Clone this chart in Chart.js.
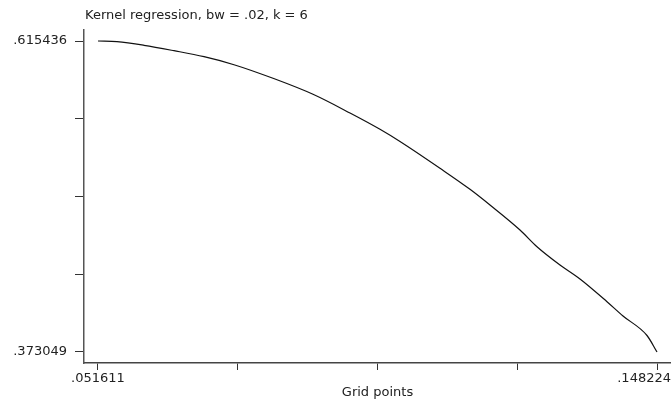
<!DOCTYPE html>
<html lang="en">
<head>
    <meta charset="UTF-8">
    <title>Kernel regression</title>
    <script src="https://cdn.jsdelivr.net/npm/chart.js"></script>
    <style>
        html, body { margin: 0; padding: 0; background: #fff; }
        #wrap { width: 671px; height: 402px; }
    </style>
</head>
<body>
    <div id="wrap"><canvas id="graficoKernel" width="671" height="402"></canvas></div>

    <script>
        // data
        const gridPoints = [0.051611, 0.054895, 0.059561, 0.064746, 0.069931, 0.075116, 0.081856, 0.088769,
            0.095164, 0.100349, 0.103806, 0.110719, 0.115904, 0.119360, 0.124545, 0.127483, 0.131458,
            0.134915, 0.139581, 0.142347, 0.146495, 0.148224];
        const fitted = [0.615436, 0.614891, 0.612085, 0.607876, 0.603200, 0.596965, 0.586365, 0.573895,
            0.559321, 0.546617, 0.537108, 0.516221, 0.499854, 0.487618, 0.468133, 0.455117, 0.440855,
            0.429944, 0.412252, 0.401106, 0.385909, 0.373049];

        const xTickValues = [0.051611, 0.0757643, 0.0999175, 0.1240708, 0.148224];
        const xTickLabels = [".051611", "", "", "", ".148224"];
        const yTickValues = [0.373049, 0.4336458, 0.4942425, 0.5548393, 0.615436];
        const yTickLabels = [".373049", "", "", "", ".615436"];

        const titulo = "Kernel regression, bw = .02, k = 6";
        const tituloX = "Grid points";

        const fonte = '"DejaVu Sans", sans-serif';

        const pontos = gridPoints.map((x, i) => ({ x: x, y: fitted[i] }));

        // title + x tick labels drawn by hand so they can sit where Stata puts them
        const textosExtras = {
            id: 'textosExtras',
            afterDraw(chart) {
                const ctx = chart.ctx;
                const escalaX = chart.scales.x;
                ctx.save();
                ctx.fillStyle = '#222';
                ctx.font = '13px ' + fonte;
                ctx.textBaseline = 'alphabetic';
                ctx.textAlign = 'left';
                ctx.fillText(titulo, 85, 19);

                xTickValues.forEach((v, i) => {
                    const txt = xTickLabels[i];
                    if (!txt) return;
                    const w = ctx.measureText(txt).width;
                    let px = escalaX.getPixelForValue(v) - w / 2;
                    px = Math.max(0, Math.min(px, chart.width - w));
                    ctx.fillText(txt, px, 382);
                });
                ctx.restore();
            }
        };

        new Chart(document.getElementById('graficoKernel'), {
            type: 'line',
            data: {
                datasets: [{
                    data: pontos,
                    borderColor: '#111',
                    borderWidth: 1.2,
                    pointRadius: 0,
                    fill: false,
                    cubicInterpolationMode: 'monotone'
                }]
            },
            options: {
                responsive: false,
                animation: false,
                layout: { padding: { top: 30, left: 0, right: 0, bottom: 0 } },
                plugins: {
                    legend: { display: false },
                    tooltip: { enabled: false },
                    title: { display: false }
                },
                scales: {
                    x: {
                        type: 'linear',
                        min: 0.0491914,
                        max: 0.1506436,
                        afterBuildTicks: s => { s.ticks = xTickValues.map(v => ({ value: v })); },
                        afterFit: s => { s.height = 39; },
                        border: { display: true, color: '#444', width: 1.5 },
                        grid: { drawOnChartArea: false, drawTicks: true, tickLength: 7, color: '#333', lineWidth: 1 },
                        ticks: { display: false },
                        title: {
                            display: true,
                            text: tituloX,
                            color: '#222',
                            font: { family: fonte, size: 13 },
                            padding: { top: 0, bottom: 2 }
                        }
                    },
                    y: {
                        type: 'linear',
                        min: 0.3644758,
                        max: 0.6240092,
                        afterBuildTicks: s => { s.ticks = yTickValues.map(v => ({ value: v })); },
                        afterFit: s => { s.width = 84; },
                        border: { display: true, color: '#555', width: 1.5 },
                        grid: { drawOnChartArea: false, drawTicks: true, tickLength: 9, color: '#333', lineWidth: 1 },
                        ticks: {
                            padding: 8,
                            color: '#222',
                            font: { family: fonte, size: 13 },
                            callback: (v, i) => yTickLabels[i]
                        }
                    }
                }
            },
            plugins: [textosExtras]
        });
    </script>
</body>
</html>
